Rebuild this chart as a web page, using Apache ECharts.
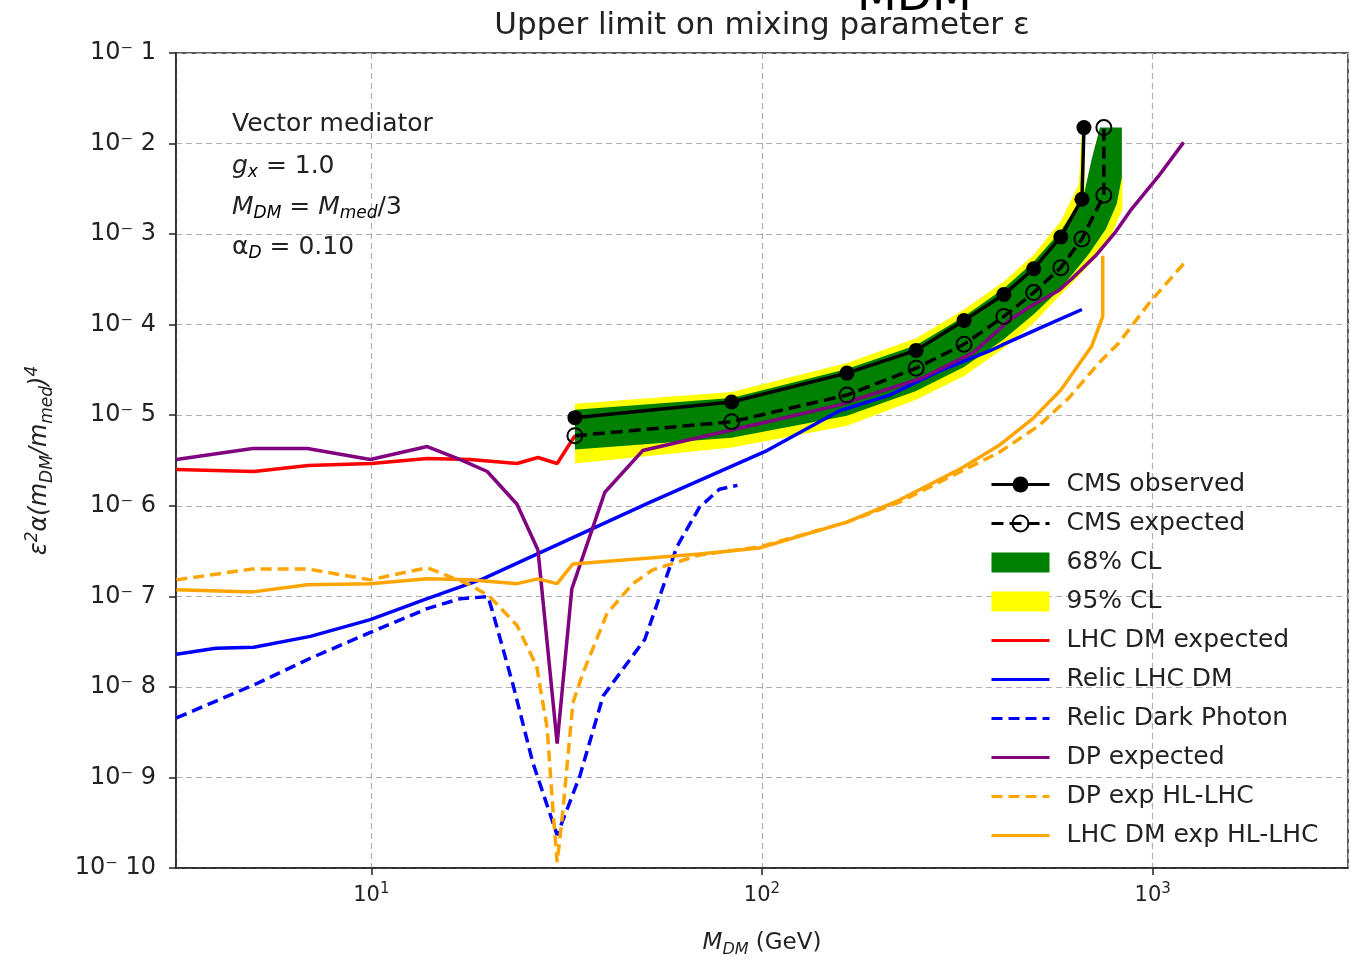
<!DOCTYPE html>
<html><head><meta charset="utf-8">
<script src="https://cdn.jsdelivr.net/npm/echarts@6/dist/echarts.min.js"></script>
<style>html,body{margin:0;padding:0;background:#fff}#c{width:1353px;height:963px}</style>
</head><body><div id="c"></div>
<script>
// ---- data (x = M_DM in GeV, y = epsilon^2 alpha (mDM/mmed)^4) ----
const cmsObserved = [[33.2,9.4e-6],[83.6,1.40e-5],[165,2.92e-5],[248,5.2e-5],[329,1.11e-4],[416,2.15e-4],[496,4.15e-4],[582,9.3e-4],[659,2.43e-3],[667,1.5e-2]];
const cmsExpected = [[33.2,5.94e-6],[83.6,8.47e-6],[165,1.67e-5],[248,3.31e-5],[329,6.08e-5],[416,1.23e-4],[496,2.26e-4],[582,4.26e-4],[659,8.85e-4],[750,2.69e-3],[750,1.5e-2]];
const band68Upper = [[33.2,1.15e-5],[83.6,1.55e-5],[165,3.24e-5],[248,5.93e-5],[329,1.23e-4],[416,2.51e-4],[496,4.95e-4],[582,1.08e-3],[667,2.76e-3],[698,6.7e-3],[733,1.5e-2],[834,1.5e-2]];
const band68Lower = [[834,4.25e-3],[809,2.15e-3],[759,1.14e-3],[687,6.07e-4],[582,2.51e-4],[496,1.30e-4],[416,6.9e-5],[329,3.4e-5],[248,1.85e-5],[165,9.86e-6],[83.6,5.65e-6],[33.2,4.18e-6]];
const band95Upper = [[33.2,1.34e-5],[83.6,1.81e-5],[165,3.77e-5],[248,7.08e-5],[329,1.47e-4],[416,2.99e-4],[496,5.92e-4],[582,1.40e-3],[647,3.56e-3],[659,1.5e-2],[670,1.5e-2],[670,2.76e-3],[837,4.25e-3]];
const band95Lower = [[837,1.89e-3],[786,1.0e-3],[719,5.62e-4],[628,2.99e-4],[582,2.15e-4],[496,1.04e-4],[416,5.5e-5],[329,2.71e-5],[248,1.48e-5],[165,7.66e-6],[83.6,4.4e-6],[33.2,2.93e-6]];
const lhcDmExpected = [[3.17,2.52e-6],[5.0,2.39e-6],[6.9,2.79e-6],[10,2.93e-6],[13.9,3.33e-6],[17.9,3.24e-6],[23.6,2.93e-6],[26.7,3.41e-6],[29.9,2.93e-6],[33.2,5.94e-6]];
const relicLhcDm = [[3.17,2.29e-8],[4.0,2.67e-8],[5.0,2.74e-8],[6.98,3.61e-8],[9.94,5.54e-8],[13.9,9.42e-8],[19.3,1.56e-7],[51.6,1.09e-6],[103,4.07e-6],[158,1.12e-5],[212,1.67e-5],[284,3.07e-5],[381,5.09e-5],[411,5.93e-5],[533,9.84e-5],[659,1.47e-4]];
const relicDarkPhoton = [[3.17,4.54e-9],[5.05,1.07e-8],[6.98,2.07e-8],[9.94,3.99e-8],[13.9,7.32e-8],[16.9,9.42e-8],[19.9,9.91e-8],[20.5,6.45e-8],[23.1,1.02e-8],[25.9,1.46e-9],[29.9,2.3e-10],[34.2,1.05e-9],[39.2,7.93e-9],[50.1,3.34e-8],[54.7,9.91e-8],[60.5,3.51e-7],[69.2,9.64e-7],[77.8,1.52e-6],[86.5,1.68e-6]];
const dpExpected = [[3.17,3.24e-6],[4.97,4.29e-6],[6.86,4.29e-6],[9.94,3.24e-6],[13.9,4.51e-6],[16.9,3.24e-6],[19.8,2.39e-6],[23.6,1.04e-6],[26.7,3.25e-7],[29.9,2.36e-9],[32.6,1.21e-7],[39.6,1.41e-6],[49.5,4.07e-6],[72.1,5.94e-6],[106,8.69e-6],[158,1.30e-5],[257,2.58e-5],[349,4.97e-5],[429,1.12e-4],[491,1.63e-4],[575,2.38e-4],[621,3.22e-4],[714,5.76e-4],[804,1.06e-3],[883,1.89e-3],[1035,4.36e-3],[1200,1.03e-2]];
const dpExpHL = [[3.17,1.52e-7],[4.97,2.01e-7],[6.86,2.01e-7],[9.94,1.52e-7],[13.9,2.07e-7],[17.9,1.34e-7],[20.1,9.91e-8],[23.6,4.77e-8],[26.5,1.69e-8],[28.2,3.44e-9],[29.2,4.12e-10],[29.9,1.16e-10],[30.9,4.12e-10],[32.8,6.64e-9],[34.8,1.42e-8],[40.1,6.45e-8],[46.7,1.38e-7],[52.5,1.96e-7],[69.2,2.86e-7],[98.5,3.51e-7],[165,6.59e-7],[224,1.09e-6],[301,2.06e-6],[404,3.87e-6],[511,7.66e-6],[610,1.55e-5],[728,3.77e-5],[818,6.24e-5],[977,1.71e-4],[1200,4.71e-4]];
const lhcDmExpHL = [[3.17,1.18e-7],[4.97,1.12e-7],[6.86,1.34e-7],[9.94,1.38e-7],[13.9,1.56e-7],[17.9,1.52e-7],[23.6,1.38e-7],[26.7,1.56e-7],[29.9,1.38e-7],[32.8,2.28e-7],[51.6,2.65e-7],[69.2,2.94e-7],[98.5,3.42e-7],[165,6.59e-7],[224,1.15e-6],[320,2.52e-6],[404,4.62e-6],[496,9.37e-6],[582,1.90e-5],[698,5.78e-5],[745,1.23e-4],[745,5.76e-4]];
const xRange = [3.1623, 3162.3];
const yRange = [1e-10, 1e-1];
const legendNames = ['CMS observed','CMS expected','68% CL','95% CL','LHC DM expected','Relic LHC DM','Relic Dark Photon','DP expected','DP exp HL-LHC','LHC DM exp HL-LHC'];

const FONT = 'DejaVu Sans';
const chart = echarts.init(document.getElementById('c'), null, {renderer: 'canvas'});

function band(name, upper, lower, color, z) {
  return {
    name, type: 'custom', z, silent: true, coordinateSystem: 'cartesian2d',
    itemStyle: {color}, encode: {x: 0, y: 1},
    data: [upper[0]],
    renderItem: (params, api) => {
      const pts = upper.concat(lower).map(p => api.coord(p));
      return {type: 'polygon', shape: {points: pts}, style: {fill: color}};
    }
  };
}
function line(name, data, color, type, width, z) {
  return {name, type: 'line', data, z, symbol: 'none', silent: true,
    lineStyle: {color, type, width}, itemStyle: {color}};
}
const sup = {fontFamily: FONT, fontSize: 15, verticalAlign: 'top', lineHeight: 15, color: '#222'};
const supI = Object.assign({}, sup, {fontStyle: 'italic', fontSize: 17, lineHeight: 17});
const subI = {fontFamily: FONT, fontSize: 17, fontStyle: 'italic', verticalAlign: 'bottom', lineHeight: 17, color: '#222'};
const noMark = {color: 'rgba(0,0,0,0)', borderWidth: 0};

const option = {
  animation: false,
  backgroundColor: '#fff',
  grid: {left: 176, top: 53, width: 1172, height: 820, show: true, borderColor: '#222', borderWidth: 1.5, backgroundColor: 'transparent', containLabel: false},
  xAxis: {
    type: 'log', logBase: 10, min: xRange[0], max: xRange[1],
    name: '{i|M}{s|DM}{n| (GeV)}', nameLocation: 'middle', nameGap: 60,
    nameTextStyle: {rich: {
      i: {fontFamily: FONT, fontSize: 23, fontStyle: 'italic', lineHeight: 30, color: '#222'},
      s: Object.assign({}, subI, {fontSize: 16}),
      n: {fontFamily: FONT, fontSize: 23, lineHeight: 30, color: '#222'}
    }},
    axisLine: {show: true, lineStyle: {color: '#222', width: 1.5}},
    axisTick: {show: true, inside: false, length: 7, lineStyle: {color: '#222', width: 1.5}},
    minorTick: {show: false},
    splitLine: {show: true, lineStyle: {color: '#b0b0b0', type: [6, 4], width: 1.2}},
    axisLabel: {
      margin: 14, showMinLabel: false, showMaxLabel: false,
      formatter: v => { const e = Math.round(Math.log10(v)); return '{b|10}{s|' + e + '}'; },
      rich: {b: {fontFamily: FONT, fontSize: 21, lineHeight: 28, color: '#222'}, s: sup}
    }
  },
  yAxis: {
    type: 'log', logBase: 10, min: yRange[0], max: yRange[1],
    name: '{i|ε}{p|2}{i|α(m}{s|DM}{i|/m}{s|med}{i|)}{p|4}', nameLocation: 'middle', nameGap: 120, nameRotate: 90,
    nameTextStyle: {rich: {
      i: {fontFamily: FONT, fontSize: 24, fontStyle: 'italic', lineHeight: 32, color: '#222'},
      p: supI, s: subI
    }},
    axisLine: {show: true, lineStyle: {color: '#222', width: 1.5}},
    axisTick: {show: true, inside: false, length: 7, lineStyle: {color: '#222', width: 1.5}},
    minorTick: {show: false},
    splitLine: {show: true, lineStyle: {color: '#b0b0b0', type: [6, 4], width: 1.2}},
    axisLabel: {
      margin: 20, fontFamily: FONT, fontSize: 24, color: '#222',
      formatter: v => { const e = Math.round(Math.log10(v)); return '10\u207B ' + (-e); }
    }
  },
  legend: {
    orient: 'vertical', left: 985, top: 467, itemWidth: 58, itemHeight: 20, itemGap: 14,
    selectedMode: false,
    lineStyle: {width: 3},
    textStyle: {fontFamily: FONT, fontSize: 25, color: '#222', lineHeight: 25, padding: [0, 0, 0, 12]},
    data: [
      {name: legendNames[0]}, {name: legendNames[1]},
      {name: legendNames[2], icon: 'rect'}, {name: legendNames[3], icon: 'rect'},
      {name: legendNames[4], itemStyle: noMark}, {name: legendNames[5], itemStyle: noMark},
      {name: legendNames[6], itemStyle: noMark}, {name: legendNames[7], itemStyle: noMark},
      {name: legendNames[8], itemStyle: noMark}, {name: legendNames[9], itemStyle: noMark}
    ]
  },
  graphic: [
    {type: 'text', x: 762, y: 26, z: 10, style: {text: 'Upper limit on mixing parameter ε', fontFamily: FONT, fontSize: 31, fill: '#222', textAlign: 'center', textVerticalAlign: 'middle'}},
    {type: 'text', x: 857, y: 21, z: 10, style: {text: 'MDM', fontFamily: FONT, fontSize: 46, fill: '#000', textVerticalAlign: 'bottom'}},
    {type: 'text', x: 232, y: 124, z: 10, style: {text: 'Vector mediator', fontFamily: FONT, fontSize: 25, fill: '#222', textVerticalAlign: 'middle'}},
    {type: 'text', x: 232, y: 166, z: 10, style: {text: '{i|g}{s|x}{n| = 1.0}', textVerticalAlign: 'middle', rich: {
      i: {fontFamily: FONT, fontSize: 25, fontStyle: 'italic', lineHeight: 30, fill: '#222'}, s: subI, n: {fontFamily: FONT, fontSize: 25, lineHeight: 30, fill: '#222'}}}},
    {type: 'text', x: 232, y: 207, z: 10, style: {text: '{i|M}{s|DM}{n| = }{i|M}{s|med}{n|/3}', textVerticalAlign: 'middle', rich: {
      i: {fontFamily: FONT, fontSize: 25, fontStyle: 'italic', lineHeight: 30, fill: '#222'}, s: subI, n: {fontFamily: FONT, fontSize: 25, lineHeight: 30, fill: '#222'}}}},
    {type: 'text', x: 232, y: 247, z: 10, style: {text: '{n|α}{s|D}{n| = 0.10}', textVerticalAlign: 'middle', rich: {
      s: subI, n: {fontFamily: FONT, fontSize: 25, lineHeight: 30, fill: '#222'}}}}
  ],
  series: [
    band('95% CL', band95Upper, band95Lower, '#ffff00', 1),
    band('68% CL', band68Upper, band68Lower, '#008000', 2),
    line('LHC DM expected', lhcDmExpected, '#ff0000', 'solid', 3.5, 3),
    line('Relic LHC DM', relicLhcDm, '#0000ff', 'solid', 3.5, 3),
    line('Relic Dark Photon', relicDarkPhoton, '#0000ff', [11, 6], 3.5, 3),
    line('DP expected', dpExpected, '#800080', 'solid', 3.5, 3),
    line('DP exp HL-LHC', dpExpHL, '#ffa500', [11, 6], 3.5, 3),
    line('LHC DM exp HL-LHC', lhcDmExpHL, '#ffa500', 'solid', 3.5, 3),
    {name: 'CMS expected', type: 'line', data: cmsExpected, z: 4, silent: true,
      symbol: 'circle', symbolSize: 15, showAllSymbol: true,
      lineStyle: {color: '#000', type: [12, 6], width: 3.5},
      itemStyle: {color: 'rgba(0,0,0,0)', borderColor: '#000', borderWidth: 2}},
    {name: 'CMS observed', type: 'line', data: cmsObserved, z: 5, silent: true,
      symbol: 'circle', symbolSize: 15, showAllSymbol: true,
      lineStyle: {color: '#000', type: 'solid', width: 3.5},
      itemStyle: {color: '#000'}}
  ]
};
chart.setOption(option);
</script></body></html>
